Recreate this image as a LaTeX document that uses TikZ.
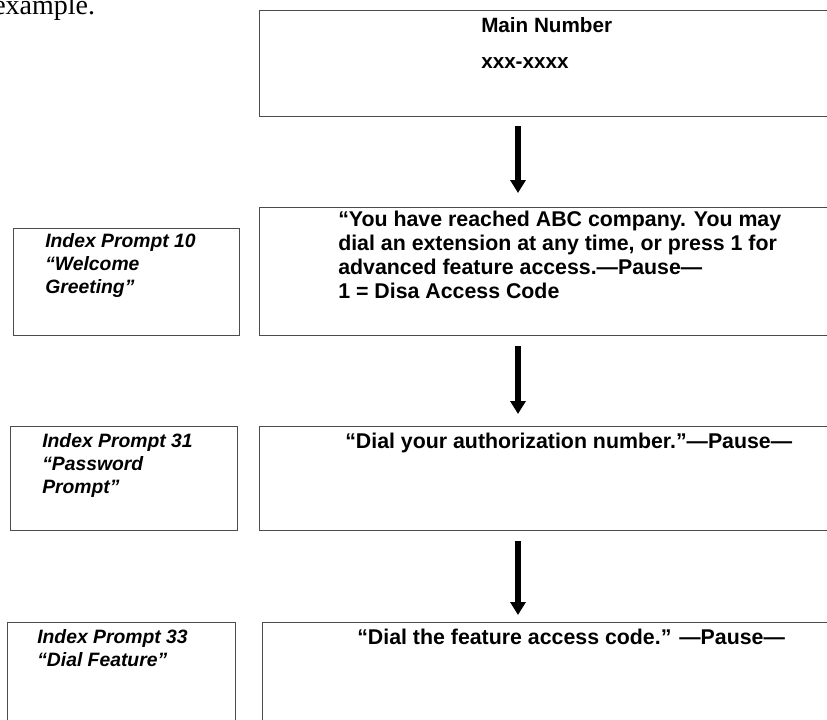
\documentclass[tikz,border=0pt]{standalone}
\usepackage{fontspec}
\setmainfont{Liberation Sans}
\newfontfamily\bodyserif{Liberation Serif}
\usetikzlibrary{arrows.meta}
\begin{document}
\begin{tikzpicture}[x=0.75pt,y=-0.75pt,
  box/.style={draw=black!70, line width=1.1pt, rectangle, inner sep=0pt, anchor=north west},
  flow/.style={line width=4.25pt, -{Triangle[width=11.25pt,length=9.75pt]}},
  txt/.style={font=\fontsize{16pt}{18pt}\selectfont\bfseries, anchor=base west, inner sep=0pt},
  lbl/.style={font=\fontsize{14.5pt}{17pt}\selectfont\bfseries\itshape, anchor=base west, inner sep=0pt}]
\useasboundingbox (0,0) rectangle (827,719);
\clip (0,0) rectangle (827,719);

% body text fragment
\node[font=\bodyserif\fontsize{21pt}{24pt}\selectfont, anchor=base west, inner sep=0pt] (ex) at (-7,14) {example.};

% main boxes
\node[box, minimum width=432pt, minimum height=79.5pt] (b1) at (259,10) {};
\node[box, minimum width=432pt, minimum height=96pt] (b2) at (259,207) {};
\node[box, minimum width=432pt, minimum height=78pt] (b3) at (259,426) {};
\node[box, minimum width=430pt, minimum height=88.5pt] (b4) at (262,622) {};

% side boxes
\node[box, minimum width=169.5pt, minimum height=80.25pt] (l1) at (13,228) {};
\node[box, minimum width=170.25pt, minimum height=78pt] (l2) at (10,426) {};
\node[box, minimum width=171pt, minimum height=88.5pt] (l3) at (7,622) {};

% arrows
\coordinate (ax) at (518,0);
\draw[flow, shorten <=6.75pt, shorten >=10.5pt] (b1.south -| ax) -- (b2.north -| ax);
\draw[flow, shorten <=7.5pt, shorten >=9pt] (b2.south -| ax) -- (b3.north -| ax);
\draw[flow, shorten <=7.5pt, shorten >=5.25pt] (b3.south -| ax) -- (b4.north -| ax);

% texts in main boxes
\node[txt, font=\fontsize{15.5pt}{18pt}\selectfont\bfseries] (m1) at (481,32) {Main Number};
\node[txt, font=\fontsize{15.5pt}{18pt}\selectfont\bfseries] (m2) at (481,68) {xxx-xxxx};

\node[txt] (w1) at (338,226) {“You have reached ABC company. You may};
\node[txt] (w2) at (338,250) {dial an extension at any time, or press 1 for};
\node[txt] (w3) at (338,274) {advanced feature access.—Pause—};
\node[txt] (w4) at (338,298) {1 = Disa Access Code};

\node[txt] (p1) at (345,448) {“Dial your authorization number.”—Pause—};
\node[txt] (f1) at (357,644) {“Dial the feature access code.” —Pause—};

% texts in side boxes
\node[lbl] (i1) at (45,247) {Index Prompt 10};
\node[lbl] (i2) at (45,270) {“Welcome};
\node[lbl] (i3) at (45,293) {Greeting”};

\node[lbl] (j1) at (42,447) {Index Prompt 31};
\node[lbl] (j2) at (42,470) {“Password};
\node[lbl] (j3) at (42,493) {Prompt”};

\node[lbl] (k1) at (37,643) {Index Prompt 33};
\node[lbl] (k2) at (37,666) {“Dial Feature”};
\end{tikzpicture}
\end{document}
